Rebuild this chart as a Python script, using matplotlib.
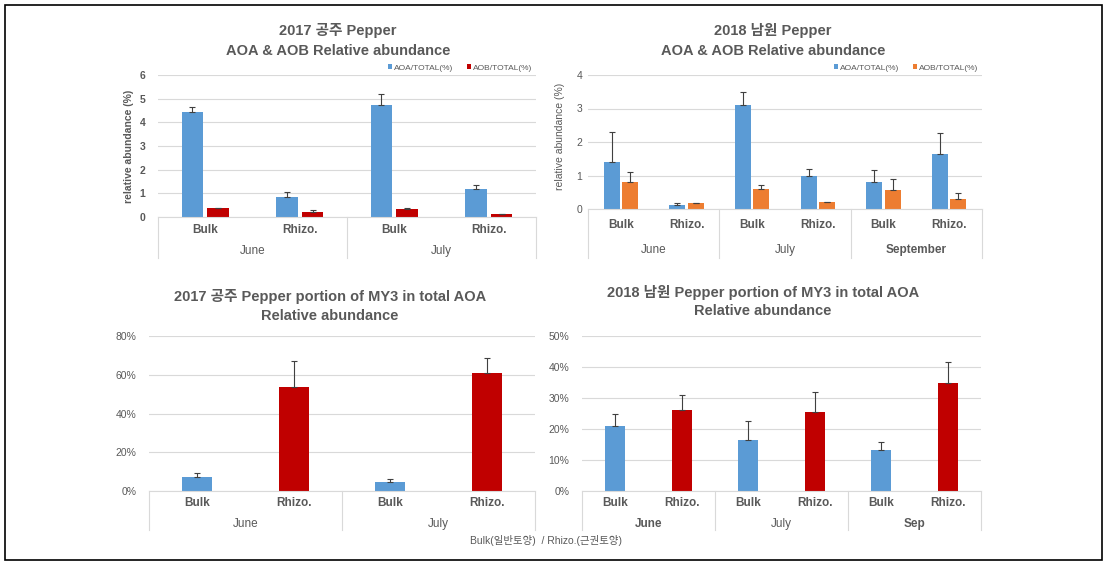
import matplotlib
matplotlib.use("Agg")
import matplotlib.pyplot as plt
from matplotlib.patches import Rectangle
from matplotlib.ticker import PercentFormatter

plt.rcParams['font.family'] = ['Liberation Sans', 'Noto Sans CJK KR', 'DejaVu Sans']

# ---------------- data ----------------
cats17 = ["Bulk", "Rhizo.", "Bulk", "Rhizo."]
months17 = ["June", "July"]
aoa17 = [4.42, 0.83, 4.73, 1.19]
aoa17_err = [0.21, 0.21, 0.45, 0.17]
aob17 = [0.37, 0.21, 0.35, 0.11]
aob17_err = [0.02, 0.09, 0.03, 0.03]

cats18 = ["Bulk", "Rhizo.", "Bulk", "Rhizo.", "Bulk", "Rhizo."]
months18 = ["June", "July", "September"]
aoa18 = [1.40, 0.13, 3.11, 1.00, 0.81, 1.65]
aoa18_err = [0.89, 0.05, 0.38, 0.19, 0.35, 0.61]
aob18 = [0.82, 0.17, 0.61, 0.20, 0.58, 0.31]
aob18_err = [0.28, 0.02, 0.11, 0.02, 0.31, 0.16]

my3_17 = [0.074, 0.536, 0.045, 0.607]
my3_17_err = [0.021, 0.133, 0.019, 0.077]
my3_18 = [0.210, 0.261, 0.165, 0.254, 0.131, 0.347]
my3_18_err = [0.040, 0.050, 0.062, 0.064, 0.028, 0.069]
months18b = ["June", "July", "Sep"]

legend_labels = ["AOA/TOTAL(%)", "AOB/TOTAL(%)"]
footer = "Bulk(일반토양)  / Rhizo.(근권토양)"

BLUE = "#5B9BD5"
RED = "#C00000"
ORANGE = "#ED7D31"
GRID = "#D9D9D9"
TXT = "#595959"
ERR = "#404040"

W, H = 1108, 563
fig = plt.figure(figsize=(W / 100, H / 100), dpi=100)


def add_ax(x0, x1, ytop, ybot):
    return fig.add_axes([x0 / W, 1 - ybot / H, (x1 - x0) / W, (ybot - ytop) / H])


def style(ax, ymax, yticks, band_px, lab_px, mon_px, months, cats, ax_h,
          tickbold=False, fmt=None, pad=4, monbold=()):
    ax.set_ylim(0, ymax)
    ax.set_xlim(-0.5, len(cats) - 0.5)
    ax.set_yticks(yticks)
    if fmt is not None:
        ax.yaxis.set_major_formatter(fmt)
    ax.grid(axis='y', color=GRID, linewidth=0.8)
    ax.set_axisbelow(True)
    for s in ['top', 'right', 'left']:
        ax.spines[s].set_visible(False)
    ax.spines['bottom'].set_color(GRID)
    ax.spines['bottom'].set_linewidth(0.8)
    ax.tick_params(axis='y', length=0, pad=pad, labelsize=7.5, labelcolor=TXT)
    if tickbold:
        for t in ax.get_yticklabels():
            t.set_fontweight('bold')
    ax.set_xticks([])
    tr = ax.get_xaxis_transform()
    nper = len(cats) // len(months)
    for k in range(len(months) + 1):
        xs = k * nper - 0.5
        ax.plot([xs, xs], [0, -band_px / ax_h], color=GRID, linewidth=0.8,
                transform=tr, clip_on=False)
    for i, c in enumerate(cats):
        ax.text(i, -lab_px / ax_h, c, transform=tr, ha='center', va='center',
                fontsize=8.5, fontweight='bold', color=TXT)
    for k, m in enumerate(months):
        xc = k * nper + (nper - 1) / 2
        ax.text(xc, -mon_px / ax_h, m, transform=tr, ha='center', va='center',
                fontsize=8.5, color=TXT, fontweight='bold' if m in monbold else 'normal')


ekw = dict(fmt='none', ecolor=ERR, elinewidth=0.8, capsize=2.5, capthick=0.8)
lkw = dict(loc='lower right', bbox_to_anchor=(1.0, 0.995), ncol=2, frameon=False,
           fontsize=6, handlelength=0.45, handleheight=0.45, handletextpad=0.25,
           columnspacing=1.6, borderpad=0, labelcolor=TXT)

# ---------- panel 1 ----------
ax1 = add_ax(158, 536, 75, 217)
x = list(range(len(cats17)))
w1, o1 = 0.23, 0.135
xa = [i - o1 for i in x]
xb = [i + o1 for i in x]
ax1.bar(xa, aoa17, width=w1, color=BLUE, label=legend_labels[0], zorder=2)
ax1.bar(xb, aob17, width=w1, color=RED, label=legend_labels[1], zorder=2)
ax1.errorbar(xa, aoa17, yerr=[[0] * 4, aoa17_err], zorder=3, **ekw)
ax1.errorbar(xb, aob17, yerr=[[0] * 4, aob17_err], zorder=3, **ekw)
style(ax1, 6, range(0, 7), 41, 13, 34, months17, cats17, 142, tickbold=True, pad=9)
ax1.set_ylabel("relative abundance (%)", fontsize=7.5, fontweight='bold', color=TXT)
ax1.yaxis.set_label_coords(-0.063, 0.5)
ax1.legend(**lkw)

# ---------- panel 2 ----------
ax2 = add_ax(588, 982, 75, 209)
x = list(range(len(cats18)))
w2, o2 = 0.24, 0.14
xa = [i - o2 for i in x]
xb = [i + o2 for i in x]
ax2.bar(xa, aoa18, width=w2, color=BLUE, label=legend_labels[0], zorder=2)
ax2.bar(xb, aob18, width=w2, color=ORANGE, label=legend_labels[1], zorder=2)
ax2.errorbar(xa, aoa18, yerr=[[0] * 6, aoa18_err], zorder=3, **ekw)
ax2.errorbar(xb, aob18, yerr=[[0] * 6, aob18_err], zorder=3, **ekw)
style(ax2, 4, range(0, 5), 49, 16, 41, months18, cats18, 134, pad=4,
      monbold=("September",))
ax2.set_ylabel("relative abundance (%)", fontsize=7.5, color=TXT)
ax2.yaxis.set_label_coords(-0.058, 0.54)
ax2.legend(**lkw)

# ---------- panel 3 ----------
ax3 = add_ax(149, 535, 336, 491)
x = list(range(len(cats17)))
cols = [BLUE, RED] * 2
ax3.bar(x, my3_17, width=0.31, color=cols, zorder=2)
ax3.errorbar(x, my3_17, yerr=[[0] * 4, my3_17_err], zorder=3, **ekw)
style(ax3, 0.8, [0, 0.2, 0.4, 0.6, 0.8], 39, 12, 33, months17, cats17, 155,
      fmt=PercentFormatter(1.0, decimals=0), pad=9)

# ---------- panel 4 ----------
ax4 = add_ax(582, 981, 336, 491)
x = list(range(len(cats18)))
cols = [BLUE, RED] * 3
ax4.bar(x, my3_18, width=0.30, color=cols, zorder=2)
ax4.errorbar(x, my3_18, yerr=[[0] * 6, my3_18_err], zorder=3, **ekw)
style(ax4, 0.5, [0, 0.1, 0.2, 0.3, 0.4, 0.5], 39, 12, 33, months18b, cats18, 155,
      fmt=PercentFormatter(1.0, decimals=0), pad=9, monbold=("June", "Sep"))

# ---------- titles ----------
tkw = dict(ha='center', va='center', fontsize=10.5, fontweight='bold', color=TXT)
fig.text(338 / W, 1 - 31 / H, "2017 공주 Pepper", **tkw)
fig.text(338 / W, 1 - 51 / H, "AOA & AOB Relative abundance", **tkw)
fig.text(773 / W, 1 - 31 / H, "2018 남원 Pepper", **tkw)
fig.text(773 / W, 1 - 51 / H, "AOA & AOB Relative abundance", **tkw)
fig.text(330 / W, 1 - 296 / H, "2017 공주 Pepper portion of MY3 in total AOA", **tkw)
fig.text(330 / W, 1 - 316 / H, "Relative abundance", **tkw)
fig.text(763 / W, 1 - 292 / H, "2018 남원 Pepper portion of MY3 in total AOA", **tkw)
fig.text(763 / W, 1 - 311 / H, "Relative abundance", **tkw)

fig.text(546 / W, 1 - 540 / H, footer, ha='center', va='center', fontsize=7.5, color=TXT)

fig.patches.append(Rectangle((5 / W, 1 - 560 / H), 1097 / W, 555 / H, transform=fig.transFigure,
                             fill=False, edgecolor='black', linewidth=1.2))

fig.savefig("out.png", dpi=100)
